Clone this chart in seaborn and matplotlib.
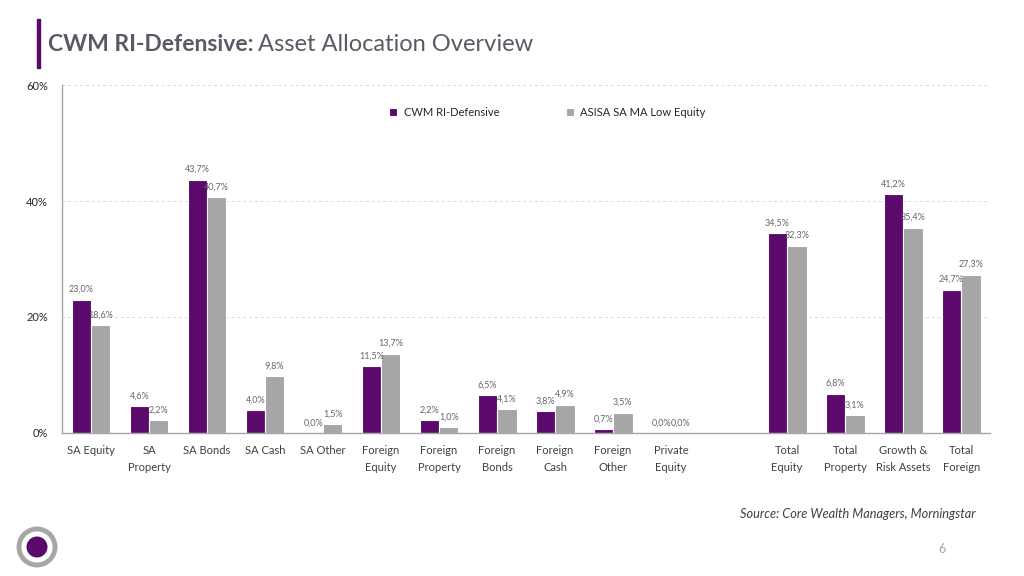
import numpy as np
import pandas as pd
import seaborn as sns
import matplotlib.pyplot as plt
from matplotlib.patches import Circle, Rectangle

categories = ["SA Equity", "SA\nProperty", "SA Bonds", "SA Cash", "SA Other",
              "Foreign\nEquity", "Foreign\nProperty", "Foreign\nBonds", "Foreign\nCash",
              "Foreign\nOther", "Private\nEquity",
              "Total\nEquity", "Total\nProperty", "Growth &\nRisk Assets", "Total\nForeign"]
fund = [23.0, 4.6, 43.7, 4.0, 0.0, 11.5, 2.2, 6.5, 3.8, 0.7, 0.0, 34.5, 6.8, 41.2, 24.7]
bench = [18.6, 2.2, 40.7, 9.8, 1.5, 13.7, 1.0, 4.1, 4.9, 3.5, 0.0, 32.3, 3.1, 35.4, 27.3]
series = ["CWM RI-Defensive", "ASISA SA MA Low Equity"]
colors = ["#5b0a6c", "#a6a6a6"]

# blank slot between the single asset classes and the totals
order = categories[:11] + [" "] + categories[11:]

df = pd.DataFrame({
    "category": categories * 2,
    "value": fund + bench,
    "series": [series[0]] * len(categories) + [series[1]] * len(categories),
})

sns.set_theme(style="white")
plt.rcParams["font.family"] = ["Lato", "DejaVu Sans"]

fig = plt.figure(figsize=(10.24, 5.76), dpi=100)
ax = fig.add_axes([0.0605, 0.2483, 0.9065, 0.6041])

sns.barplot(data=df, x="category", y="value", hue="series", order=order,
            hue_order=series, palette=colors, width=0.67, edgecolor="white",
            linewidth=0.8, saturation=1, ax=ax)

for cont in ax.containers:
    labels = [f"{v:.1f}%".replace(".", ",") for v in cont.datavalues]
    ax.bar_label(cont, labels=labels, padding=4, fontsize=6.5, color="#666666")

ax.set_ylim(0, 60)
ax.set_yticks([0, 20, 40, 60])
ax.set_yticklabels(["0%", "20%", "40%", "60%"], fontsize=8, color="#262626")
ax.yaxis.grid(True, linestyle=(0, (3, 3)), color="#d9d9d9", linewidth=0.7)
ax.set_axisbelow(True)
ax.tick_params(axis="x", labelsize=8, labelcolor="#404040", length=0, pad=9)
ax.tick_params(axis="y", length=0, pad=10)
for lbl in ax.get_xticklabels():
    lbl.set_linespacing(1.6)
ax.set_xlabel("")
ax.set_ylabel("")
for s in ["top", "right"]:
    ax.spines[s].set_visible(False)
for s in ["left", "bottom"]:
    ax.spines[s].set_color("#a6a6a6")
    ax.spines[s].set_linewidth(1)

ax.legend(loc="upper center", bbox_to_anchor=(0.523, 0.965), ncol=2, frameon=False,
          fontsize=8, handlelength=0.7, handleheight=0.7, columnspacing=6,
          handletextpad=0.6, labelcolor="#262626")

# title
fig.add_artist(Rectangle((0.036, 0.882), 0.003, 0.085, transform=fig.transFigure,
                         color="#5b0a6c"))
t1 = fig.text(0.047, 0.922, "CWM RI-Defensive:", fontsize=16.5, fontweight="bold",
              color="#5a5a66", va="center")
fig.canvas.draw()
bb = t1.get_window_extent().transformed(fig.transFigure.inverted())
fig.text(bb.x1 + 0.004, 0.922, "Asset Allocation Overview", fontsize=17,
         color="#5a5a66", va="center")

fig.text(0.953, 0.108, "Source: Core Wealth Managers, Morningstar", fontsize=9.2,
         style="italic", color="#404040", ha="right", va="center")
fig.text(0.92, 0.047, "6", fontsize=9, color="#a6a6a6", ha="center", va="center")

# logo, drawn in pixel space so it stays round
fig.add_artist(Circle((37, 576 - 547), 18, transform=None,
                      facecolor="white", edgecolor="#a6a6a6", linewidth=3.5))
fig.add_artist(Circle((37, 576 - 547), 10.5, transform=None,
                      facecolor="#5b0a6c", edgecolor="none"))

fig.savefig("out.png", dpi=100)
